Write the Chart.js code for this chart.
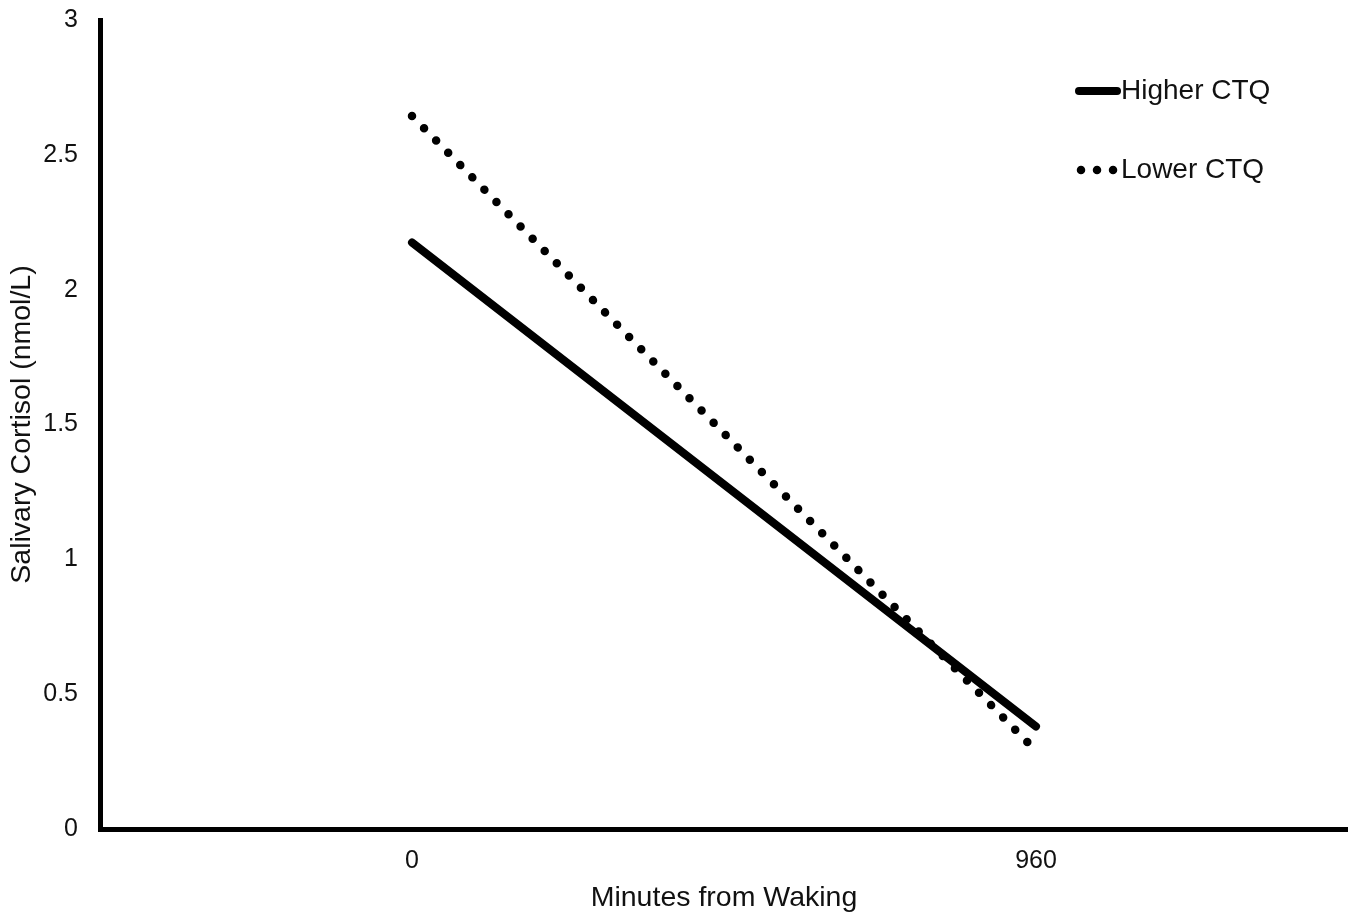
<!DOCTYPE html>
<html>
<head>
<meta charset="utf-8">
<script src="https://cdn.jsdelivr.net/npm/chart.js@4"></script>
<style>
html,body{margin:0;padding:0;background:#fff;}
#wrap{width:1355px;height:917px;position:relative;}
</style>
</head>
<body>
<div id="wrap"><canvas id="c" width="1355" height="917"></canvas></div>
<script>
const categories = ["0", "960"];
const higherCTQ = [2.175, 0.38];
const lowerCTQ = [2.644, 0.29];
const yTicks = [0, 0.5, 1, 1.5, 2, 2.5, 3];
const seriesNames = ["Higher CTQ", "Lower CTQ"];
const xTitle = "Minutes from Waking";
const yTitle = "Salivary Cortisol (nmol/L)";

const FONT = "'Liberation Sans', Arial, sans-serif";

const legendPlugin = {
  id: 'customLegend',
  afterDatasetsDraw(chart) {
    const ctx = chart.ctx;
    const area = chart.chartArea;
    const items = [
      {ds: chart.data.datasets[0], y: area.top + 71, x1: area.right - 269, x2: area.right - 231, dash: []},
      {ds: chart.data.datasets[1], y: area.top + 150, x1: area.right - 267, x2: area.right - 230, dash: [0.01, 16]}
    ];
    items.forEach(it => {
      ctx.save();
      ctx.strokeStyle = it.ds.borderColor;
      ctx.lineWidth = it.ds.borderWidth;
      ctx.lineCap = 'round';
      ctx.setLineDash(it.dash);
      ctx.beginPath();
      ctx.moveTo(it.x1, it.y);
      ctx.lineTo(it.x2, it.y);
      ctx.stroke();
      ctx.restore();
      ctx.save();
      ctx.fillStyle = '#111';
      ctx.font = "28px " + FONT;
      ctx.textBaseline = 'middle';
      ctx.textAlign = 'left';
      ctx.fillText(it.ds.label, area.right - 227, it.y);
      ctx.restore();
    });
  }
};

new Chart(document.getElementById('c'), {
  type: 'line',
  data: {
    labels: categories,
    datasets: [
      {
        label: seriesNames[0],
        data: higherCTQ,
        borderColor: '#000',
        backgroundColor: '#000',
        borderWidth: 8,
        borderCapStyle: 'round',
        pointRadius: 0,
        tension: 0,
        fill: false
      },
      {
        label: seriesNames[1],
        data: lowerCTQ,
        borderColor: '#000',
        backgroundColor: '#000',
        borderWidth: 8.5,
        borderCapStyle: 'round',
        borderDash: [0.01, 17.2],
        pointRadius: 0,
        tension: 0,
        fill: false
      }
    ]
  },
  options: {
    responsive: false,
    animation: false,
    devicePixelRatio: 1,
    layout: { padding: { left: 0, right: 7, top: 20, bottom: 0 } },
    plugins: {
      legend: { display: false },
      tooltip: { enabled: false }
    },
    scales: {
      x: {
        type: 'category',
        offset: true,
        grid: { display: false, drawTicks: false, lineWidth: 0 },
        border: { display: true, color: '#000', width: 5 },
        ticks: { color: '#111', font: { family: FONT, size: 25 }, padding: 17, maxRotation: 0 },
        title: { display: true, text: xTitle, color: '#111', font: { family: FONT, size: 28.5 }, padding: { top: 0, bottom: 2 } },
        afterFit(scale) { scale.height = 88; scale.paddingLeft = 0; scale.paddingRight = 0; }
      },
      y: {
        min: 0,
        max: 3,
        afterBuildTicks(scale) { scale.ticks = yTicks.map(v => ({ value: v })); },
        grid: { display: false, drawTicks: false, lineWidth: 0 },
        border: { display: true, color: '#000', width: 5 },
        ticks: { color: '#111', font: { family: FONT, size: 25 }, padding: 22, callback: (v) => String(v) },
        title: { display: true, text: yTitle, color: '#111', font: { family: FONT, size: 28.5 }, padding: { top: 5, bottom: 0 } },
        afterFit(scale) { scale.width = 100; scale.paddingTop = 0; scale.paddingBottom = 0; }
      }
    }
  },
  plugins: [legendPlugin]
});
</script>
</body>
</html>
